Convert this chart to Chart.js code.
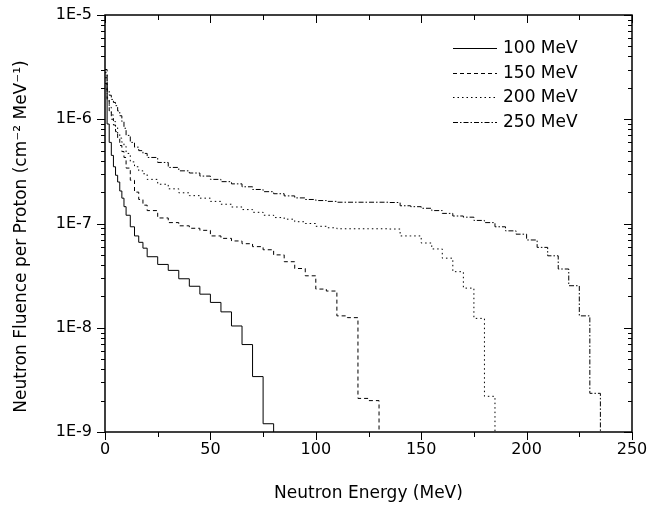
<!DOCTYPE html>
<html>
<head>
<meta charset="utf-8">
<title>Neutron fluence per proton</title>
<script src="https://cdn.jsdelivr.net/npm/chart.js@4.4.1/dist/chart.umd.min.js"></script>
<style>
  html, body { margin: 0; padding: 0; background: #fff; }
  canvas { display: block; }
</style>
</head>
<body>
<canvas id="fluence-chart" width="647" height="506"></canvas>
<script>
const fluenceChart = document.querySelector("#fluence-chart");

// bin edges (MeV), finer near zero
const energyEdges = [
  0, 1, 2, 3, 4, 5, 6, 7, 8, 9, 10, 12, 14, 16, 18, 20,
  25, 30, 35, 40, 45, 50, 55, 60, 65, 70, 75, 80, 85, 90, 95, 100,
  105, 110, 115, 120, 125, 130, 135, 140, 145, 150, 155, 160, 165, 170, 175, 180,
  185, 190, 195, 200, 205, 210, 215, 220, 225, 230, 235, 240, 245, 250,
];

const seriesLabels = ["100 MeV", "150 MeV", "200 MeV", "250 MeV"];

// fluence per bin (cm^-2 MeV^-1 per proton)
const fluence100 = [
  2.2e-6, 9.0e-7, 6.0e-7, 4.5e-7, 3.5e-7, 2.9e-7, 2.5e-7, 2.05e-7, 1.75e-7, 1.45e-7,
  1.2e-7, 9.3e-8, 7.6e-8, 6.6e-8, 5.8e-8,
  4.8e-8, 4.05e-8, 3.55e-8, 2.95e-8, 2.5e-8, 2.1e-8, 1.75e-8, 1.42e-8, 1.04e-8, 6.9e-9,
  3.4e-9, 1.2e-9,
];

const fluence150 = [
  3.0e-6, 1.5e-6, 1.2e-6, 1.0e-6, 8.8e-7, 7.6e-7, 6.5e-7, 5.6e-7, 4.9e-7, 4.3e-7,
  3.4e-7, 2.6e-7, 2.0e-7, 1.7e-7, 1.5e-7,
  1.33e-7, 1.13e-7, 1.02e-7, 9.5e-8, 9.0e-8, 8.6e-8, 7.6e-8, 7.2e-8, 6.8e-8, 6.4e-8,
  6.0e-8, 5.6e-8, 5.0e-8, 4.3e-8, 3.7e-8, 3.15e-8, 2.35e-8, 2.25e-8, 1.3e-8, 1.25e-8,
  2.1e-9, 2.0e-9,
];

const fluence200 = [
  2.8e-6, 1.6e-6, 1.3e-6, 1.1e-6, 9.5e-7, 8.3e-7, 7.3e-7, 6.6e-7, 6.0e-7, 5.5e-7,
  4.7e-7, 3.9e-7, 3.5e-7, 3.2e-7, 3.0e-7,
  2.65e-7, 2.38e-7, 2.15e-7, 1.97e-7, 1.85e-7, 1.75e-7, 1.63e-7, 1.53e-7, 1.44e-7, 1.36e-7,
  1.28e-7, 1.2e-7, 1.14e-7, 1.1e-7, 1.04e-7, 1.0e-7, 9.4e-8, 9.1e-8, 8.9e-8, 8.9e-8,
  8.9e-8, 8.9e-8, 8.9e-8, 8.85e-8, 7.6e-8, 7.6e-8, 6.5e-8, 5.7e-8, 4.65e-8, 3.45e-8,
  2.4e-8, 1.23e-8, 2.2e-9,
];

const fluence250 = [
  2.5e-6, 1.9e-6, 1.7e-6, 1.55e-6, 1.45e-6, 1.35e-6, 1.2e-6, 1.08e-6, 9.5e-7, 8.2e-7,
  7.0e-7, 6.0e-7, 5.4e-7, 5.0e-7, 4.7e-7,
  4.3e-7, 3.85e-7, 3.45e-7, 3.2e-7, 3.05e-7, 2.85e-7, 2.65e-7, 2.52e-7, 2.4e-7, 2.25e-7,
  2.12e-7, 2.02e-7, 1.93e-7, 1.84e-7, 1.76e-7, 1.7e-7, 1.66e-7, 1.63e-7, 1.6e-7, 1.6e-7,
  1.6e-7, 1.6e-7, 1.6e-7, 1.59e-7, 1.48e-7, 1.45e-7, 1.4e-7, 1.33e-7, 1.25e-7, 1.18e-7,
  1.15e-7, 1.07e-7, 1.02e-7, 9.3e-8, 8.5e-8, 7.9e-8, 6.95e-8, 5.9e-8, 4.9e-8, 3.66e-8,
  2.53e-8, 1.3e-8, 2.35e-9,
];

const dashStyles = [[], [4, 3], [1.5, 3], [5, 2, 1.5, 2]];

const xMajorTicks = [0, 50, 100, 150, 200, 250];
const xMinorTicks = [25, 75, 125, 175, 225];
const yMajorTicks = [1e-9, 1e-8, 1e-7, 1e-6, 1e-5];
const yMin = 1e-9;
const yMax = 1e-5;

const yTitle = "Neutron Fluence per Proton (cm\u207B\u00B2 MeV\u207B\u00B9)";

Chart.defaults.font.family = "'DejaVu Sans', sans-serif";
Chart.defaults.color = "#000";

// bins -> step points, last point drops to the bottom of the axis
const toSteps = (values) => {
  const points = values.map((v, i) => ({ x: energyEdges[i], y: v }));
  points.push({ x: energyEdges[values.length], y: yMin });
  return points;
};

// label overhang is covered by the layout padding instead
const noLabelPadding = (scale) => {
  scale.paddingTop = 0;
  scale.paddingBottom = 0;
  scale.paddingLeft = 0;
  scale.paddingRight = 0;
};

const frameAndLegend = {
  id: "frameAndLegend",
  afterDraw(chart) {
    const { ctx, chartArea: a, scales } = chart;
    const x = scales.x;
    const y = scales.y;
    ctx.save();
    ctx.strokeStyle = "#000";
    ctx.lineWidth = 1;
    ctx.setLineDash([]);

    const line = (x0, y0, x1, y1) => {
      ctx.beginPath();
      ctx.moveTo(x0, y0);
      ctx.lineTo(x1, y1);
      ctx.stroke();
    };

    // x ticks: out at the bottom, in at the top
    const xTick = (v, len) => {
      const px = Math.round(x.getPixelForValue(v)) + 0.5;
      line(px, a.bottom, px, a.bottom + len);
      line(px, a.top, px, a.top + len);
    };
    xMajorTicks.forEach((v) => xTick(v, 8));
    xMinorTicks.forEach((v) => xTick(v, 5));

    // y ticks: out on the left, in on the right
    const yTick = (v, len) => {
      const py = Math.round(y.getPixelForValue(v)) + 0.5;
      line(a.left - len, py, a.left, py);
      line(a.right - len, py, a.right, py);
    };
    yMajorTicks.forEach((v, i) => {
      yTick(v, 8);
      if (i < yMajorTicks.length - 1) {
        for (let m = 2; m < 10; m++) yTick(v * m, 4);
      }
    });

    ctx.lineWidth = 1.5;
    ctx.strokeRect(a.left, a.top, a.right - a.left, a.bottom - a.top);

    // y axis title, sits a little below the middle of the axis
    ctx.fillStyle = "#000";
    ctx.font = "17px 'DejaVu Sans'";
    ctx.textAlign = "center";
    ctx.textBaseline = "middle";
    ctx.save();
    ctx.translate(22, (a.top + a.bottom) / 2 + 13);
    ctx.rotate(-Math.PI / 2);
    ctx.fillText(yTitle, 0, 0);
    ctx.restore();

    // legend inside the top right corner
    ctx.lineWidth = 1;
    ctx.textAlign = "left";
    chart.data.datasets.forEach((ds, i) => {
      const ry = Math.round(a.top + 33 + i * 24.6) + 0.5;
      ctx.setLineDash(ds.borderDash || []);
      line(a.right - 179, ry, a.right - 135, ry);
      ctx.setLineDash([]);
      ctx.fillText(ds.label, a.right - 129, ry);
    });
    ctx.restore();
  },
};

const renderChart = () => {
  const allSeries = [fluence100, fluence150, fluence200, fluence250];
  const datasets = allSeries.map((values, i) => ({
    label: seriesLabels[i],
    data: toSteps(values),
    borderColor: "#000",
    borderWidth: 1,
    borderDash: dashStyles[i],
    stepped: true,
    pointRadius: 0,
    fill: false,
  }));

  new Chart(fluenceChart, {
    type: "line",
    data: { datasets },
    plugins: [frameAndLegend],
    options: {
      responsive: false,
      animation: false,
      devicePixelRatio: 1,
      layout: { padding: { left: 0, right: 15, top: 15, bottom: 0 } },
      plugins: { legend: { display: false }, tooltip: { enabled: false } },
      scales: {
        x: {
          type: "linear",
          min: 0,
          max: 250,
          grid: { display: false, drawTicks: false },
          border: { display: false },
          ticks: {
            stepSize: 50,
            padding: 8,
            font: { size: 16 },
            color: "#000",
          },
          title: {
            display: true,
            text: "Neutron Energy (MeV)",
            font: { size: 17 },
            padding: { top: 0, bottom: 2 },
          },
          afterFit: (scale) => {
            scale.height = 74;
            noLabelPadding(scale);
          },
        },
        y: {
          type: "logarithmic",
          min: yMin,
          max: yMax,
          grid: { display: false, drawTicks: false },
          border: { display: false },
          afterBuildTicks: (scale) => {
            scale.ticks = yMajorTicks.map((v) => ({ value: v, major: true }));
          },
          ticks: {
            autoSkip: false,
            padding: 13,
            font: { size: 16 },
            color: "#000",
            callback: (value) => "1E" + Math.round(Math.log10(value)),
          },
          afterFit: (scale) => {
            scale.width = 105;
            noLabelPadding(scale);
          },
        },
      },
    },
  });
};

document.addEventListener("DOMContentLoaded", function () {
  renderChart();
});
</script>
</body>
</html>
